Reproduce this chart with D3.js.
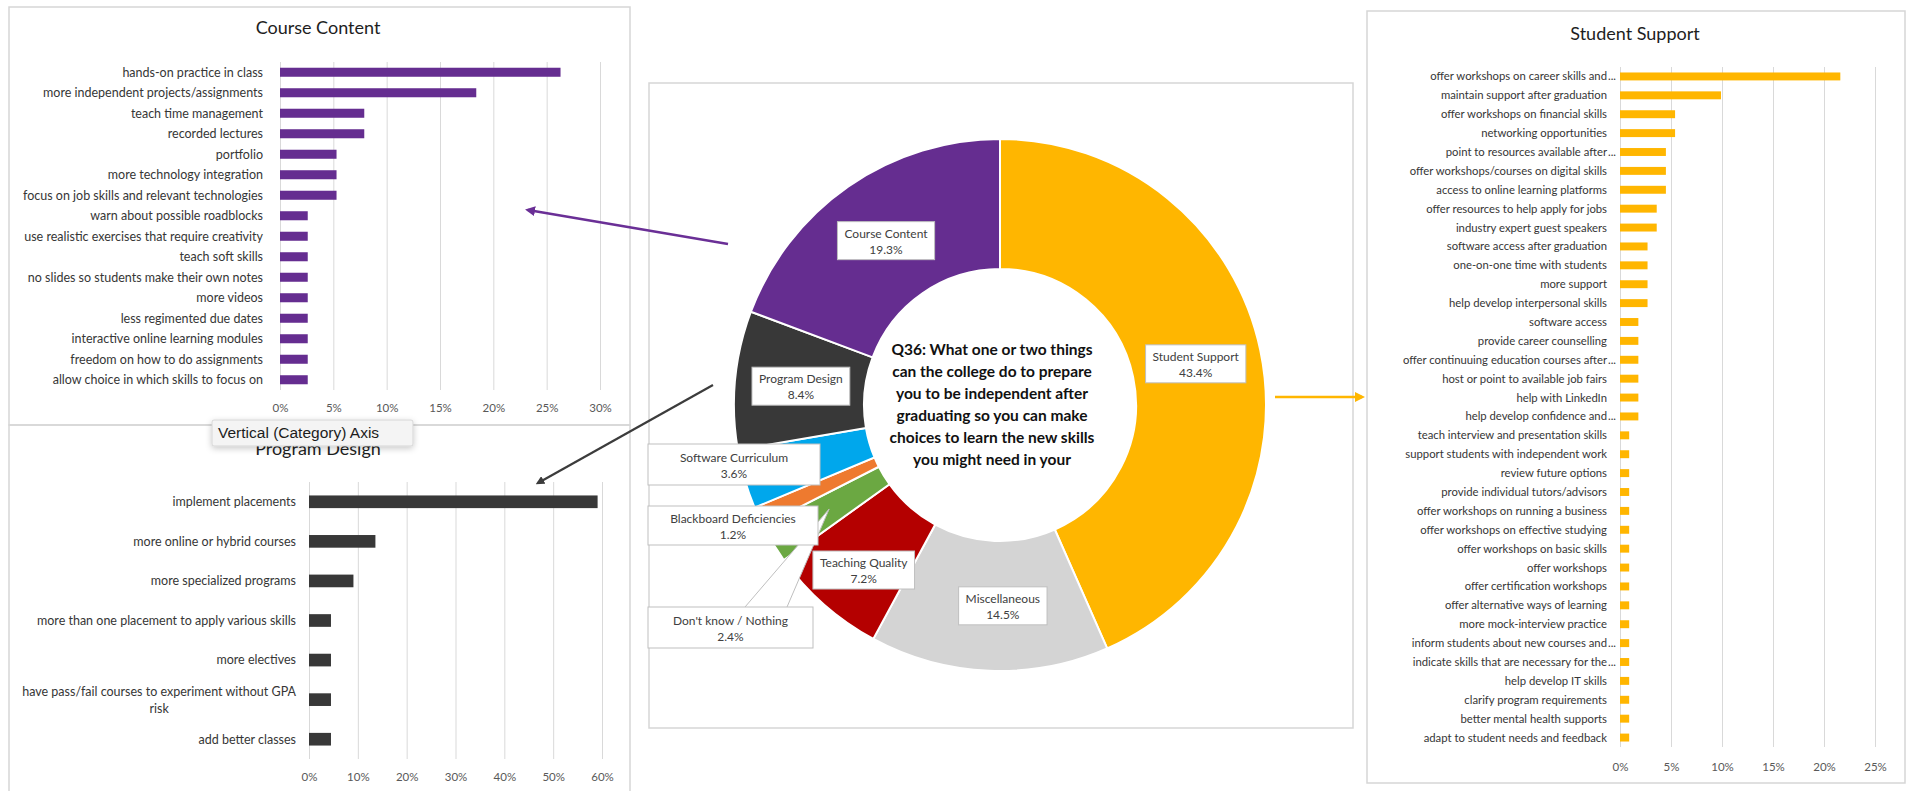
<!DOCTYPE html>
<html>
<head>
<meta charset="utf-8">
<script src="https://cdn.jsdelivr.net/npm/d3@7"></script>
<style>
  html, body { margin: 0; padding: 0; background: #fff; }
  svg { display: block; }
</style>
</head>
<body>
<svg id="chart" width="1910" height="791"></svg>
<script>
// ---------- data ----------
const donutCategories = ["Student Support", "Miscellaneous", "Teaching Quality", "Don't know / Nothing",
  "Blackboard Deficiencies", "Software Curriculum", "Program Design", "Course Content"];
const donutValues = [43.4, 14.5, 7.2, 2.4, 1.2, 3.6, 8.4, 19.3];
const donutColors = ["#ffb600", "#d4d4d4", "#b40000", "#6ba842", "#ee7a2f", "#00a7ec", "#383838", "#652d90"];

const courseCategories = ["hands-on practice in class", "more independent projects/assignments", "teach time management",
  "recorded lectures", "portfolio", "more technology integration", "focus on job skills and relevant technologies",
  "warn about possible roadblocks", "use realistic exercises that require creativity", "teach soft skills",
  "no slides so students make their own notes", "more videos", "less regimented due dates",
  "interactive online learning modules", "freedom on how to do assignments", "allow choice in which skills to focus on"];
const courseValues = [26.3, 18.4, 7.9, 7.9, 5.3, 5.3, 5.3, 2.6, 2.6, 2.6, 2.6, 2.6, 2.6, 2.6, 2.6, 2.6];
const courseTicks = [0, 5, 10, 15, 20, 25, 30];

const programCategories = ["implement placements", "more online or hybrid courses", "more specialized programs",
  "more than one placement to apply various skills", "more electives",
  "have pass/fail courses to experiment without GPA risk", "add better classes"];
const programValues = [59.1, 13.6, 9.1, 4.5, 4.5, 4.5, 4.5];
const programTicks = [0, 10, 20, 30, 40, 50, 60];

const supportCategories = ["offer workshops on career skills and...", "maintain support after graduation",
  "offer workshops on financial skills", "networking opportunities", "point to resources available after...",
  "offer workshops/courses on digital skills", "access to online learning platforms",
  "offer resources to help apply for jobs", "industry expert guest speakers", "software access after graduation",
  "one-on-one time with students", "more support", "help develop interpersonal skills", "software access",
  "provide career counselling", "offer continuuing education courses after...", "host or point to available job fairs",
  "help with LinkedIn", "help develop confidence and...", "teach interview and presentation skills",
  "support students with independent work", "review future options", "provide individual tutors/advisors",
  "offer workshops on running a business", "offer workshops on effective studying", "offer workshops on basic skills",
  "offer workshops", "offer certification workshops", "offer alternative ways of learning",
  "more mock-interview practice", "inform students about new courses and...", "indicate skills that are necessary for the...",
  "help develop IT skills", "clarify program requirements", "better mental health supports",
  "adapt to student needs and feedback"];
const supportValues = [21.6, 9.9, 5.4, 5.4, 4.5, 4.5, 4.5, 3.6, 3.6, 2.7, 2.7, 2.7, 2.7, 1.8, 1.8, 1.8, 1.8, 1.8, 1.8,
  0.9, 0.9, 0.9, 0.9, 0.9, 0.9, 0.9, 0.9, 0.9, 0.9, 0.9, 0.9, 0.9, 0.9, 0.9, 0.9, 0.9];
const supportTicks = [0, 5, 10, 15, 20, 25];

const centerQuestion = ["Q36: What one or two things", "can the college do to prepare", "you to be independent after",
  "graduating so you can make", "choices to learn the new skills", "you might need in your"];

// ---------- setup ----------
const FONT = "Lato, 'Open Sans', sans-serif";
const svg = d3.select("#chart");
svg.append("rect").attr("width", 1910).attr("height", 791).attr("fill", "#fff");
const defs = svg.append("defs");

function arrowMarker(id, color) {
  defs.append("marker").attr("id", id).attr("viewBox", "0 0 10 10")
    .attr("refX", 7).attr("refY", 5).attr("markerWidth", 4).attr("markerHeight", 4)
    .attr("orient", "auto")
    .append("path").attr("d", "M0,0 L10,5 L0,10 z").attr("fill", color);
}
arrowMarker("arrPurple", "#6a2f96");
arrowMarker("arrDark", "#3c3c3c");
arrowMarker("arrGold", "#ffb600");

defs.append("filter").attr("id", "tipShadow").attr("x", "-20%").attr("y", "-50%")
  .attr("width", "140%").attr("height", "220%")
  .append("feDropShadow").attr("dx", 0).attr("dy", 2).attr("stdDeviation", 3)
  .attr("flood-color", "#000").attr("flood-opacity", 0.22);

// panel frames
function frame(x, y, w, h) {
  svg.append("rect").attr("x", x).attr("y", y).attr("width", w).attr("height", h)
    .attr("fill", "none").attr("stroke", "#d6d6d6").attr("stroke-width", 1.5);
}
frame(9, 7, 621, 418);
frame(9, 425, 621, 380);
frame(649, 83, 704, 645);
frame(1367, 11, 538, 772);

// ---------- horizontal bar panels ----------
function barPanel(cfg) {
  const g = svg.append("g");
  const x = d3.scaleLinear().domain([0, cfg.ticks[cfg.ticks.length - 1]]).range([cfg.x0, cfg.x1]);
  const y = d3.scaleBand().domain(cfg.categories).range([cfg.y0, cfg.y1])
    .paddingInner(cfg.pad).paddingOuter(cfg.pad / 2);

  g.append("text").attr("x", cfg.titleX).attr("y", cfg.titleY).attr("text-anchor", "middle")
    .attr("dominant-baseline", "middle").attr("font-family", FONT).attr("font-size", 18)
    .attr("fill", "#1e1e1e").text(cfg.title);

  const grid = g.append("g").attr("transform", `translate(0,${cfg.y1})`)
    .call(d3.axisBottom(x).tickValues(cfg.ticks).tickSize(-(cfg.y1 - cfg.y0)).tickFormat(""));
  grid.select(".domain").remove();
  grid.selectAll("line").attr("stroke", "#d9d9d9").attr("stroke-width", 1);

  const ax = g.append("g").attr("transform", `translate(0,${cfg.tickY})`)
    .call(d3.axisBottom(x).tickValues(cfg.ticks).tickSize(0).tickPadding(0).tickFormat(d => d + "%"));
  ax.select(".domain").remove();
  ax.selectAll("text").attr("font-family", FONT).attr("font-size", cfg.tickFont)
    .attr("fill", "#595959").attr("dy", "0.35em");

  g.selectAll("rect.bar").data(cfg.values).join("rect").attr("class", "bar")
    .attr("x", x(0)).attr("y", (d, i) => y(cfg.categories[i]))
    .attr("width", d => x(d) - x(0)).attr("height", y.bandwidth()).attr("fill", cfg.color);

  const labels = g.append("g").attr("font-family", FONT).attr("font-size", cfg.labelFont).attr("fill", "#363636");
  cfg.categories.forEach(c => {
    const cy = y(c) + y.bandwidth() / 2;
    const lx = x(0) - cfg.labelGap;
    if (c.endsWith("...")) {
      labels.append("text").attr("x", lx).attr("y", cy).attr("dy", "0.35em")
        .attr("text-anchor", "end").text(c.slice(0, -3));
      labels.append("text").attr("x", lx + 1).attr("y", cy).attr("dy", "0.35em")
        .attr("text-anchor", "start").text("...");
      return;
    }
    const t = labels.append("text").attr("x", lx).attr("y", cy).attr("dy", "0.35em")
      .attr("text-anchor", "end").text(c);
    if (cfg.wrapWidth && t.node().getComputedTextLength() > cfg.wrapWidth) {
      // wrap into lines, centred on the widest line
      const words = c.split(" ");
      const lines = [];
      let cur = [];
      t.text("");
      words.forEach(w => {
        cur.push(w);
        t.text(cur.join(" "));
        if (t.node().getComputedTextLength() > cfg.wrapWidth && cur.length > 1) {
          cur.pop();
          lines.push(cur.join(" "));
          cur = [w];
        }
      });
      lines.push(cur.join(" "));
      let maxW = 0;
      lines.forEach(l => { t.text(l); maxW = Math.max(maxW, t.node().getComputedTextLength()); });
      t.remove();
      const lh = 17;
      lines.forEach((l, i) => {
        labels.append("text").attr("x", lx - maxW / 2).attr("y", cy + (i - (lines.length - 1) / 2) * lh)
          .attr("dy", "0.35em").attr("text-anchor", "middle").text(l);
      });
    }
  });
}

barPanel({
  title: "Course Content", titleX: 318, titleY: 29,
  categories: courseCategories, values: courseValues, ticks: courseTicks, color: "#652d90",
  x0: 280, x1: 600, y0: 62, y1: 390, pad: 0.56, tickY: 408, tickFont: 11.5,
  labelFont: 12.5, labelGap: 17
});

barPanel({
  title: "Program Design", titleX: 318, titleY: 450,
  categories: programCategories, values: programValues, ticks: programTicks, color: "#383838",
  x0: 309, x1: 602, y0: 482, y1: 759, pad: 0.68, tickY: 777, tickFont: 11.5,
  labelFont: 12.5, labelGap: 13, wrapWidth: 280
});

barPanel({
  title: "Student Support", titleX: 1635, titleY: 35,
  categories: supportCategories, values: supportValues, ticks: supportTicks, color: "#ffb600",
  x0: 1620, x1: 1875, y0: 67, y1: 747, pad: 0.58, tickY: 767, tickFont: 11.5,
  labelFont: 11.3, labelGap: 13
});

// tooltip box floating over the Program Design title
const tip = svg.append("g");
tip.append("rect").attr("x", 212).attr("y", 420).attr("width", 201).attr("height", 26).attr("rx", 2)
  .attr("fill", "#f4f4f4").attr("stroke", "#cfcfcf").attr("stroke-width", 0.8).attr("filter", "url(#tipShadow)");
tip.append("text").attr("x", 218).attr("y", 433).attr("dy", "0.35em")
  .attr("font-family", "'Liberation Sans', Arial, sans-serif").attr("font-size", 15.5)
  .attr("fill", "#1c1c1c").text("Vertical (Category) Axis");

// ---------- donut ----------
const cx = 1000, cy = 405, rOuter = 266, rInner = 136;
const pie = d3.pie().sort(null).value(d => d);
const arcs = pie(donutValues);
const arc = d3.arc().innerRadius(rInner).outerRadius(rOuter);
const donut = svg.append("g").attr("transform", `translate(${cx},${cy})`);
donut.selectAll("path").data(arcs).join("path").attr("d", arc)
  .attr("fill", (d, i) => donutColors[i]).attr("stroke", "#fff").attr("stroke-width", 2);

// centre question
const qText = svg.append("g").attr("font-family", FONT).attr("font-size", 15.5)
  .attr("font-weight", "bold").attr("fill", "#111").attr("text-anchor", "middle");
centerQuestion.forEach((l, i) => {
  qText.append("text").attr("x", cx - 8).attr("y", 350 + i * 22).attr("dy", "0.35em").text(l);
});

// data label boxes (centred on the slice centroid unless moved aside)
const labelMoves = {
  "Software Curriculum": { x: 648, y: 444, w: 172, h: 41 },
  "Blackboard Deficiencies": { x: 648, y: 506, w: 170, h: 39 },
  "Don't know / Nothing": { x: 648, y: 607, w: 165, h: 41 },
  "Teaching Quality": { dx: -4, dy: 15 },
  "Miscellaneous": { dx: 11, dy: 1 }
};
const calloutArc = d3.arc().innerRadius(200).outerRadius(200);

// pointer from the "Don't know" box to its slice
const dkIdx = donutCategories.indexOf("Don't know / Nothing");
const dkTip = calloutArc.centroid(arcs[dkIdx]);
const dkBox = labelMoves["Don't know / Nothing"];
svg.append("path")
  .attr("d", `M${dkBox.x + 97},${dkBox.y} L${cx + dkTip[0]},${cy + dkTip[1]} L${dkBox.x + 139},${dkBox.y}`)
  .attr("fill", "#fff").attr("stroke", "#bfbfbf").attr("stroke-width", 1);

const labelLayer = svg.append("g").attr("font-family", FONT).attr("font-size", 12).attr("fill", "#404040");
arcs.forEach((a, i) => {
  const name = donutCategories[i];
  const pct = donutValues[i].toFixed(1) + "%";
  const c = calloutArc.centroid(a);
  const mv = labelMoves[name] || {};
  const g = labelLayer.append("g");
  const box = g.append("rect").attr("fill", "#fff").attr("stroke", "#bfbfbf").attr("stroke-width", 1);
  const t1 = g.append("text").attr("text-anchor", "middle").attr("dy", "0.35em").text(name);
  const t2 = g.append("text").attr("text-anchor", "middle").attr("dy", "0.35em").text(pct);
  let bx, by, bw, bh;
  if (mv.w) {
    bx = mv.x; by = mv.y; bw = mv.w; bh = mv.h;
  } else {
    bw = t1.node().getComputedTextLength() + 14;
    bh = 38;
    bx = cx + c[0] + (mv.dx || 0) - bw / 2;
    by = cy + c[1] + (mv.dy || 0) - bh / 2;
  }
  box.attr("x", bx).attr("y", by).attr("width", bw).attr("height", bh);
  const mx = bx + bw / 2, my = by + bh / 2;
  t1.attr("x", mx).attr("y", my - 7);
  t2.attr("x", mx).attr("y", my + 9);
});

// ---------- connectors from the donut to the detail panels ----------
svg.append("line").attr("x1", 728).attr("y1", 244).attr("x2", 528).attr("y2", 210)
  .attr("stroke", "#6a2f96").attr("stroke-width", 2.5).attr("marker-end", "url(#arrPurple)");
svg.append("line").attr("x1", 713).attr("y1", 385).attr("x2", 538).attr("y2", 483)
  .attr("stroke", "#3c3c3c").attr("stroke-width", 2.2).attr("marker-end", "url(#arrDark)");
svg.append("line").attr("x1", 1275).attr("y1", 397).attr("x2", 1362).attr("y2", 397)
  .attr("stroke", "#ffb600").attr("stroke-width", 2.5).attr("marker-end", "url(#arrGold)");
</script>
</body>
</html>
